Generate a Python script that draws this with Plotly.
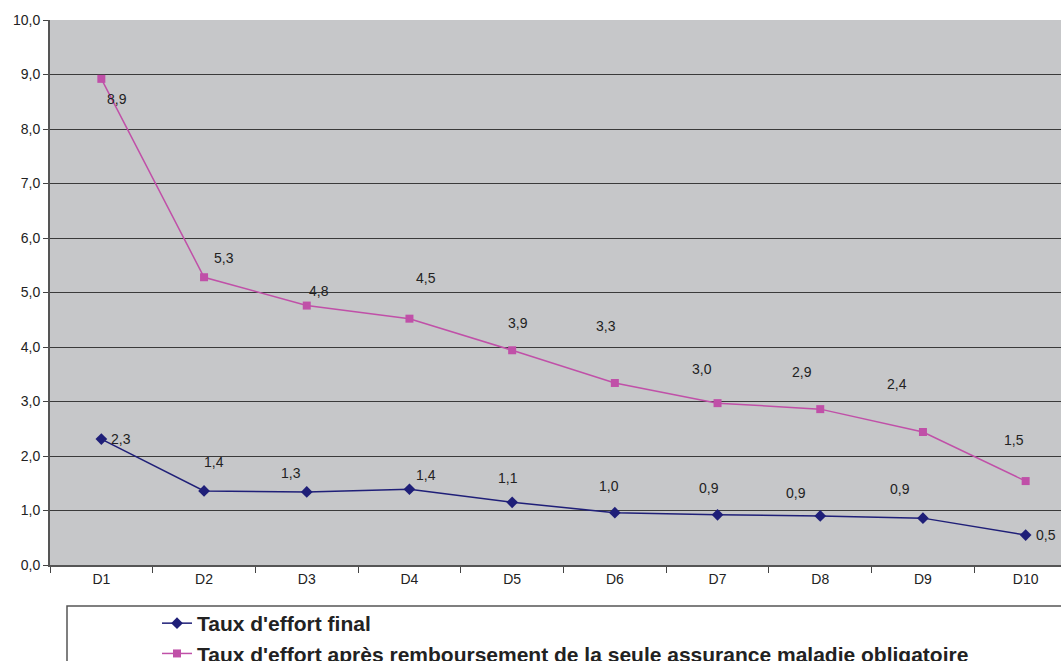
import plotly.graph_objects as go

categories = ["D1", "D2", "D3", "D4", "D5", "D6", "D7", "D8", "D9", "D10"]
taux_final = [2.31, 1.36, 1.34, 1.39, 1.15, 0.96, 0.92, 0.90, 0.86, 0.55]
taux_amo = [8.92, 5.28, 4.76, 4.52, 3.94, 3.34, 2.97, 2.86, 2.44, 1.54]
labels_final = ["2,3", "1,4", "1,3", "1,4", "1,1", "1,0", "0,9", "0,9", "0,9", "0,5"]
labels_amo = ["8,9", "5,3", "4,8", "4,5", "3,9", "3,3", "3,0", "2,9", "2,4", "1,5"]
y_ticks = [0, 1, 2, 3, 4, 5, 6, 7, 8, 9, 10]

# label offsets (pixels) relative to each point
off_final = [(20, 0), (10, 29), (-16, 19), (17, 14), (-4, 24), (-6, 27), (-9, 27), (-24, 23), (-23, 29), (20, 0)]
off_amo = [(16, -20), (20, 19), (12, 15), (17, 41), (6, 27), (-9, 57), (-16, 34), (-18, 37), (-26, 48), (-12, 41)]

BLUE = "#1f1f78"
PINK = "#c050a8"
FONT = "Liberation Sans, Arial, sans-serif"

fig = go.Figure()
fig.add_trace(go.Scatter(
    x=categories, y=taux_final, mode="lines+markers", name="Taux d'effort final",
    line=dict(color=BLUE, width=1.5), marker=dict(symbol="diamond", size=9, color=BLUE),
    legendgroup="a"))
fig.add_trace(go.Scatter(
    x=categories, y=taux_amo, mode="lines+markers",
    name="Taux d'effort après remboursement de la seule assurance maladie obligatoire",
    line=dict(color=PINK, width=1.5), marker=dict(symbol="square", size=8, color=PINK),
    legendgroup="b"))

annotations = []
for cat, v, t, (dx, dy) in zip(categories, taux_final, labels_final, off_final):
    annotations.append(dict(x=cat, y=v, text=t, showarrow=False, xshift=dx, yshift=dy,
                            font=dict(family=FONT, size=14, color="#222")))
for cat, v, t, (dx, dy) in zip(categories, taux_amo, labels_amo, off_amo):
    annotations.append(dict(x=cat, y=v, text=t, showarrow=False, xshift=dx, yshift=dy,
                            font=dict(family=FONT, size=14, color="#222")))

W, H = 1061, 661
fig.update_layout(
    width=W, height=H,
    margin=dict(l=50, r=0, t=20, b=96, autoexpand=False),
    paper_bgcolor="white", plot_bgcolor="#c6c7c9",
    separators=", ",
    font=dict(family=FONT, size=14, color="#222"),
    annotations=annotations,
    showlegend=True,
    legend=dict(xref="container", yref="container", x=157 / W, y=1 - 603 / H, xanchor="left", yanchor="top",
                font=dict(family=FONT, size=21, color="#222", weight="bold"),
                bgcolor="rgba(0,0,0,0)", tracegroupgap=0, itemwidth=30),
    shapes=[dict(type="rect", xref="paper", yref="paper", x0=17 / 1011, x1=1.2,
                 y0=-0.4, y1=-41 / 545, line=dict(color="#555", width=1.5), fillcolor="rgba(0,0,0,0)")],
)
fig.update_xaxes(
    range=[-0.5, -0.5 + 1011 / 102.7], showgrid=False, ticks="outside", tickson="boundaries",
    ticklen=6, tickcolor="#444", showline=True, linecolor="#555", linewidth=2, tickangle=0,
    tickfont=dict(family=FONT, size=14, color="#222"),
)
fig.update_yaxes(
    range=[0, 10], tickvals=y_ticks, tickformat=".1f", showgrid=True, gridcolor="#3a3a3a", gridwidth=1,
    ticks="outside", ticklen=5, tickcolor="#444", showline=True, linecolor="#555", linewidth=2,
    zeroline=False, tickfont=dict(family=FONT, size=14, color="#222"),
)
fig.write_html("out.html", config={"displayModeBar": False},
               post_script="document.body.style.margin='0';document.body.style.overflow='hidden';")
